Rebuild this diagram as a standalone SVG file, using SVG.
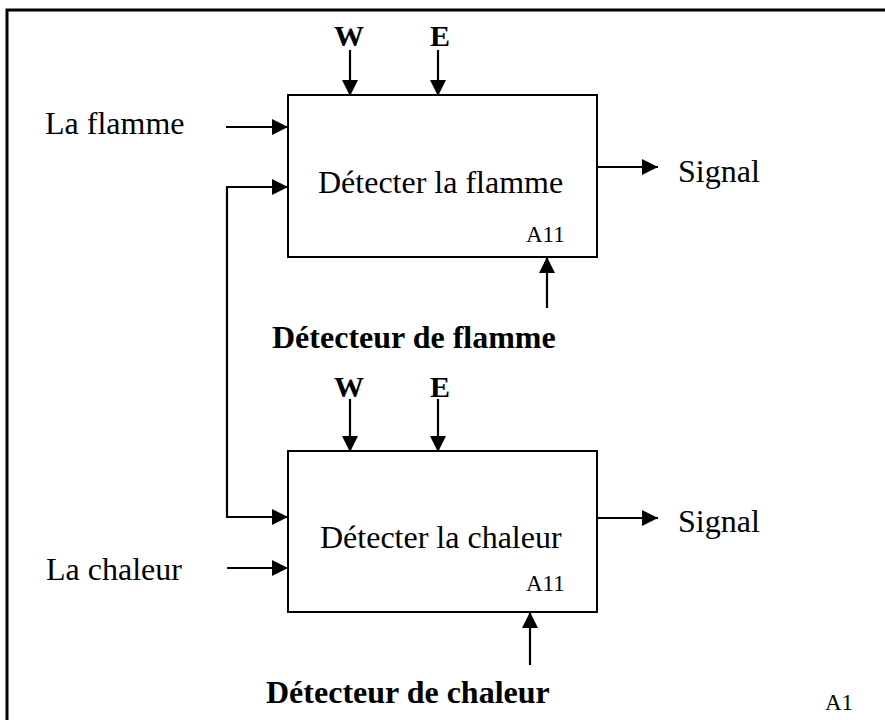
<svg xmlns="http://www.w3.org/2000/svg" width="885" height="720" viewBox="0 0 885 720">
<style>
.box{fill:#fff;stroke:#000;stroke-width:2}
.ln{fill:none;stroke:#000;stroke-width:2.2}
.t{font-family:"Liberation Serif","Times New Roman",serif;font-size:32px;fill:#000}
.b{font-weight:bold}
.s{font-size:23px}
.w{font-size:30px}
</style>
<defs>
<marker id="ah" markerUnits="userSpaceOnUse" markerWidth="16" markerHeight="16" refX="16" refY="8" orient="auto">
<path d="M0,0 L16,8 L0,16 Z" fill="#000"/>
</marker>
</defs>
<rect width="885" height="720" fill="#fff"/>
<path d="M7,740 V10 H890" fill="none" stroke="#000" stroke-width="3"/>

<g id="node-a11-flamme">
<rect class="box" x="288" y="95" width="309" height="162"/>
<text class="t" x="318" y="193">Détecter la flamme</text>
<text class="t s" x="526" y="242">A11</text>
</g>
<g id="node-a11-chaleur">
<rect class="box" x="288" y="451" width="309" height="161"/>
<text class="t" x="320" y="548">Détecter la chaleur</text>
<text class="t s" x="526" y="591">A11</text>
</g>

<g id="labels">
<text class="t" x="45" y="134">La flamme</text>
<text class="t" x="46" y="580">La chaleur</text>
<text class="t" x="678" y="182">Signal</text>
<text class="t" x="678" y="532">Signal</text>
<text class="t b w" x="349" y="46" text-anchor="middle">W</text>
<text class="t b w" x="440" y="46" text-anchor="middle">E</text>
<text class="t b w" x="349" y="397" text-anchor="middle">W</text>
<text class="t b w" x="440" y="397" text-anchor="middle">E</text>
<text class="t b" x="272" y="348">Détecteur de flamme</text>
<text class="t b" x="266" y="703">Détecteur de chaleur</text>
<text class="t s" x="825" y="710">A1</text>
</g>

<g id="connectors">
<line class="ln" x1="226" y1="127" x2="288" y2="127" marker-end="url(#ah)"/>
<path class="ln" d="M227,187 V517 H288" marker-end="url(#ah)"/>
<line class="ln" x1="226" y1="187" x2="288" y2="187" marker-end="url(#ah)"/>
<line class="ln" x1="227" y1="568" x2="288" y2="568" marker-end="url(#ah)"/>
<line class="ln" x1="350" y1="50" x2="350" y2="96" marker-end="url(#ah)"/>
<line class="ln" x1="438" y1="50" x2="438" y2="96" marker-end="url(#ah)"/>
<line class="ln" x1="350" y1="399" x2="350" y2="452" marker-end="url(#ah)"/>
<line class="ln" x1="438" y1="399" x2="438" y2="452" marker-end="url(#ah)"/>
<line class="ln" x1="547" y1="308" x2="547" y2="257" marker-end="url(#ah)"/>
<line class="ln" x1="530" y1="665" x2="530" y2="612" marker-end="url(#ah)"/>
<line class="ln" x1="597" y1="167" x2="658" y2="167" marker-end="url(#ah)"/>
<line class="ln" x1="597" y1="518" x2="658" y2="518" marker-end="url(#ah)"/>
</g>
</svg>
